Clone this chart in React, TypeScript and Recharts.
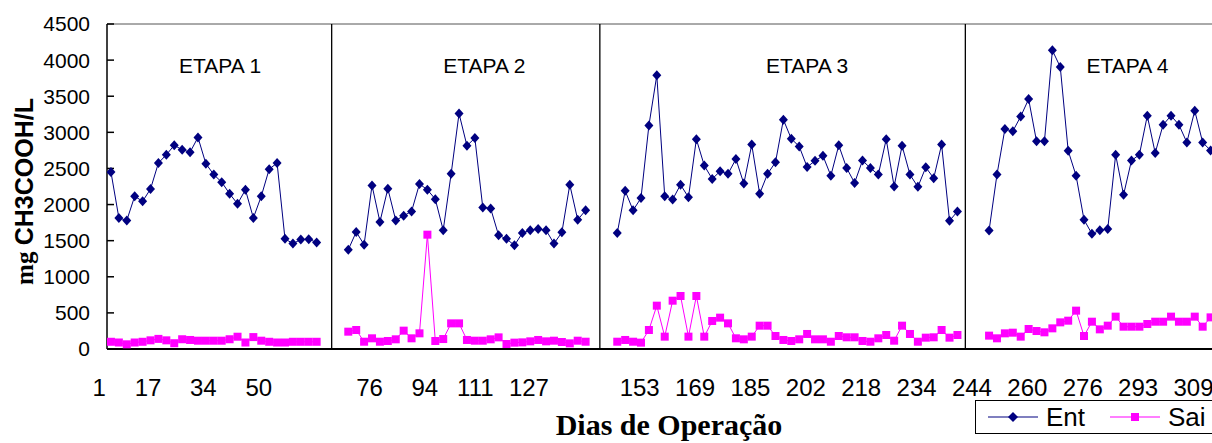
import React from 'react';
import { LineChart, Line, XAxis, YAxis, ReferenceLine, ReferenceDot, Legend } from 'recharts';

// ---- data ----
const DAY_LABELS = ['1', '17', '34', '50', '', '76', '94', '111', '127', '', '153', '169', '185', '202', '218', '234', '244', '260', '276', '293', '309'];
const LABEL_EVERY = 7;

const STAGE_START = [0, 30, 64, 111];
const STAGE_NAMES = ['ETAPA 1', 'ETAPA 2', 'ETAPA 3', 'ETAPA 4'];
const STAGE_LABEL_X = [13.8, 47.2, 88.0, 128.5];
const STAGE_LABEL_Y = 3930;
const STAGE_SEPARATORS = [27.9, 61.8, 108];

const ENT_1 = [2450, 1815, 1780, 2115, 2045, 2215, 2575, 2690, 2820, 2760, 2725, 2930, 2565, 2415, 2310, 2150, 2010, 2205, 1815, 2115, 2490, 2575, 1525, 1460, 1515, 1520, 1475];
const SAI_1 = [100, 90, 65, 90, 100, 120, 140, 120, 80, 135, 125, 115, 115, 115, 115, 135, 170, 90, 165, 115, 100, 90, 90, 100, 100, 100, 100];

const ENT_2 = [1375, 1620, 1445, 2265, 1760, 2220, 1780, 1845, 1905, 2285, 2205, 2075, 1645, 2425, 3260, 2815, 2920, 1960, 1945, 1575, 1525, 1435, 1605, 1645, 1660, 1645, 1460, 1615, 2275, 1790, 1920];
const SAI_2 = [240, 263, 101, 148, 101, 111, 134, 254, 148, 217, 1583, 111, 138, 355, 355, 125, 115, 115, 134, 161, 69, 88, 92, 106, 125, 106, 115, 97, 78, 115, 101];

const ENT_3 = [1605, 2190, 1920, 2090, 3095, 3790, 2115, 2070, 2275, 2100, 2905, 2540, 2355, 2460, 2425, 2630, 2290, 2830, 2150, 2425, 2585, 3175, 2910, 2805, 2520, 2605, 2675, 2400, 2820, 2505, 2300, 2610, 2505, 2415, 2905, 2250, 2815, 2415, 2245, 2515, 2365, 2830, 1775, 1905];
const SAI_3 = [101, 125, 101, 88, 263, 600, 171, 669, 734, 171, 734, 171, 388, 434, 355, 148, 134, 171, 323, 323, 180, 125, 111, 134, 208, 134, 134, 101, 180, 162, 162, 111, 101, 148, 194, 115, 323, 208, 101, 157, 162, 263, 157, 194];

const ENT_4 = [1640, 2415, 3045, 3015, 3220, 3460, 2875, 2875, 4135, 3905, 2745, 2400, 1790, 1595, 1645, 1660, 2690, 2135, 2610, 2690, 3230, 2715, 3105, 3230, 3105, 2860, 3300, 2860, 2750];
const SAI_4 = [185, 148, 217, 226, 171, 277, 249, 231, 286, 369, 392, 531, 180, 378, 272, 323, 448, 309, 309, 309, 346, 378, 378, 448, 378, 378, 448, 309, 438];

const ENT = [ENT_1, ENT_2, ENT_3, ENT_4];
const SAI = [SAI_1, SAI_2, SAI_3, SAI_4];

const Y_TICKS = [0, 500, 1000, 1500, 2000, 2500, 3000, 3500, 4000, 4500];
const X_DOMAIN: [number, number] = [-0.5, 145.5];
const MINOR_TICKS = Array.from({ length: 30 }, (_, k) => -0.5 + 5 * k);
const LABEL_TICKS = DAY_LABELS.map((_, k) => k * LABEL_EVERY);

// build rows (null rows in gaps break the lines between stages)
type Row = { idx: number; ent: number | null; sai: number | null };
const rows: Row[] = [];
STAGE_START.forEach((start, s) => {
  ENT[s].forEach((v, i) => rows.push({ idx: start + i, ent: v, sai: SAI[s][i] }));
  const end = start + ENT[s].length;
  const next = s + 1 < STAGE_START.length ? STAGE_START[s + 1] : end;
  for (let g = end; g < next; g++) rows.push({ idx: g, ent: null, sai: null });
});

const ENT_COLOR = '#000080';
const SAI_COLOR = '#FF00FF';
const SANS = '"Liberation Sans", Arial, sans-serif';
const SERIF = '"Liberation Serif", "Times New Roman", serif';

const Diamond = (props: any) => {
  const { cx, cy, key } = props;
  if (cx == null || cy == null || props.value == null) return <g key={key} />;
  return <path key={key} d={`M${cx},${cy - 5}L${cx + 4.5},${cy}L${cx},${cy + 5}L${cx - 4.5},${cy}Z`} fill={ENT_COLOR} />;
};

const Square = (props: any) => {
  const { cx, cy, key } = props;
  if (cx == null || cy == null || props.value == null) return <g key={key} />;
  return <rect key={key} x={cx - 4} y={cy - 4} width={8} height={8} fill={SAI_COLOR} />;
};

const XLabelTick = (props: any) => {
  const { x, y, payload } = props;
  const label = DAY_LABELS[Math.round(payload.value / LABEL_EVERY)] ?? '';
  return (
    <text x={x - 5} y={y} dy="0.71em" textAnchor="end" fontSize={24} fontFamily={SANS} fill="#000">
      {label}
    </text>
  );
};

const YTitle = (props: any) => {
  const vb = props.viewBox || { x: 0, y: 24, width: 107, height: 325 };
  const cx = vb.x + 33;
  const cy = vb.y + vb.height / 2 + 5;
  return (
    <text transform={`translate(${cx},${cy}) rotate(-90)`} textAnchor="middle" fontSize={25} fontWeight="bold" fill="#000">
      <tspan fontFamily={SERIF}>mg </tspan>
      <tspan fontFamily={SANS}>CH3COOH/L</tspan>
    </text>
  );
};

const XTitle = () => (
  <text x={669} y={435} textAnchor="middle" fontSize={30} fontWeight="bold" fontFamily={SERIF} fill="#000">
    Dias de Operação
  </text>
);

const LegendItem = ({ color, marker, label, gapAfter }: any) => (
  <div style={{ display: 'flex', alignItems: 'center', marginRight: gapAfter }}>
    <svg width={50} height={20}>
      <line x1={0} y1={10} x2={50} y2={10} stroke={color} strokeWidth={1.2} />
      {marker === 'diamond' ? (
        <path d="M25,5L30,10L25,15L20,10Z" fill={color} />
      ) : (
        <rect x={21} y={6} width={8} height={8} fill={color} />
      )}
    </svg>
    <span style={{ marginLeft: 8, fontFamily: SANS, fontSize: 26, color: '#000', lineHeight: '26px' }}>{label}</span>
  </div>
);

const renderLegend = () => (
  <div
    style={{
      boxSizing: 'border-box',
      width: 260,
      height: 34,
      border: '1px solid #000',
      background: '#fff',
      display: 'flex',
      alignItems: 'center',
      paddingLeft: 12,
    }}
  >
    <LegendItem color={ENT_COLOR} marker="diamond" label="Ent" gapAfter={25} />
    <LegendItem color={SAI_COLOR} marker="square" label="Sai" gapAfter={0} />
  </div>
);

export default function App() {
  return (
    <div style={{ position: 'absolute', left: 0, top: 0, width: 1212, height: 443, overflow: 'hidden', background: '#fff' }}>
      <LineChart width={1272} height={443} data={rows} margin={{ top: 24, right: 10, bottom: 0, left: 0 }}>
        <XAxis
          xAxisId="a"
          dataKey="idx"
          type="number"
          domain={X_DOMAIN}
          ticks={MINOR_TICKS}
          interval={0}
          tick={false}
          tickSize={-7}
          height={2}
          axisLine={{ stroke: '#000', strokeWidth: 2 }}
          tickLine={{ stroke: '#000', strokeWidth: 1.5 }}
          allowDataOverflow
        />
        <XAxis
          xAxisId="b"
          dataKey="idx"
          type="number"
          domain={X_DOMAIN}
          ticks={LABEL_TICKS}
          interval={0}
          tick={<XLabelTick />}
          tickSize={0}
          tickMargin={28}
          height={92}
          axisLine={false}
          tickLine={false}
          allowDataOverflow
        />
        <YAxis
          type="number"
          domain={[0, 4500]}
          ticks={Y_TICKS}
          interval={0}
          width={107}
          tickSize={-7}
          tickMargin={24}
          axisLine={{ stroke: '#000', strokeWidth: 1.5 }}
          tickLine={{ stroke: '#000', strokeWidth: 1.5 }}
          tick={{ fontSize: 21, fontFamily: SANS, fill: '#000' }}
          label={{ content: <YTitle /> } as any}
        />
        <ReferenceLine xAxisId="a" y={4500} stroke="#555" strokeWidth={1} />
        {STAGE_SEPARATORS.map((x) => (
          <ReferenceLine key={x} xAxisId="a" x={x} stroke="#000" strokeWidth={1.3} />
        ))}
        {STAGE_NAMES.map((name, i) => (
          <ReferenceDot
            key={name}
            xAxisId="a"
            x={STAGE_LABEL_X[i]}
            y={STAGE_LABEL_Y}
            r={0}
            fill="none"
            stroke="none"
            label={{ value: name, position: 'center', fontSize: 21, fontFamily: SANS, fill: '#000' }}
          />
        ))}
        <Line
          xAxisId="a"
          type="linear"
          dataKey="ent"
          name="Ent"
          stroke={ENT_COLOR}
          strokeWidth={1}
          dot={Diamond}
          activeDot={false}
          connectNulls={false}
          isAnimationActive={false}
        />
        <Line
          xAxisId="a"
          type="linear"
          dataKey="sai"
          name="Sai"
          stroke={SAI_COLOR}
          strokeWidth={1}
          dot={Square}
          activeDot={false}
          connectNulls={false}
          isAnimationActive={false}
        />
        <Legend
          layout="horizontal"
          verticalAlign="middle"
          align="center"
          content={renderLegend}
          wrapperStyle={{ left: 975, top: 400, width: 260, height: 34 }}
        />
        <XTitle />
      </LineChart>
    </div>
  );
}
